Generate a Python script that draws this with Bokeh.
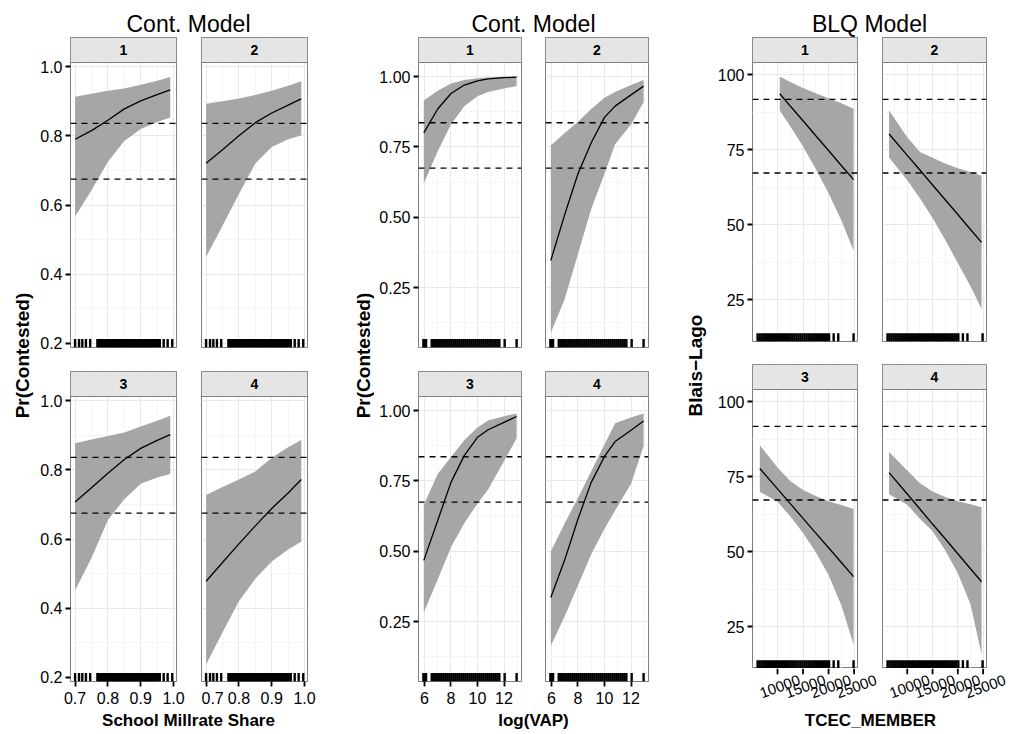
import math
from bokeh.plotting import figure
from bokeh.layouts import row, column
from bokeh.models import FixedTicker, LinearAxis, Grid, Span, NumeralTickFormatter, Range1d
from bokeh.core.properties import value
from bokeh.embed import file_html
from bokeh.resources import INLINE

FONT = "Liberation Sans"

# ------------------------------------------------------------------ data
facets = ["1", "2", "3", "4"]
group_titles = ["Cont. Model", "Cont. Model", "BLQ Model"]
x_titles = ["School Millrate Share", "log(VAP)", "TCEC_MEMBER"]
y_titles = ["Pr(Contested)", "Pr(Contested)", "Blais\u2212Lago"]

cut_pr = [0.836, 0.675]
cut_blq = [91.7, 67.2]

# School Millrate Share model
millrate_x = [0.70, 0.75, 0.80, 0.85, 0.90, 0.95, 0.99]
millrate_fit = [
    [0.790, 0.815, 0.845, 0.878, 0.901, 0.919, 0.933],
    [0.721, 0.760, 0.800, 0.838, 0.866, 0.889, 0.907],
    [0.707, 0.748, 0.790, 0.830, 0.862, 0.885, 0.902],
    [0.478, 0.532, 0.586, 0.638, 0.688, 0.733, 0.772],
]
millrate_lower = [
    [0.567, 0.643, 0.725, 0.785, 0.820, 0.840, 0.853],
    [0.450, 0.540, 0.632, 0.720, 0.768, 0.790, 0.801],
    [0.452, 0.545, 0.655, 0.715, 0.760, 0.778, 0.788],
    [0.237, 0.330, 0.420, 0.485, 0.535, 0.570, 0.592],
]
millrate_upper = [
    [0.913, 0.922, 0.930, 0.937, 0.948, 0.959, 0.970],
    [0.893, 0.900, 0.908, 0.918, 0.930, 0.945, 0.958],
    [0.877, 0.888, 0.898, 0.908, 0.925, 0.942, 0.956],
    [0.727, 0.750, 0.772, 0.795, 0.835, 0.865, 0.886],
]
millrate_rug = [0.700, 0.712, 0.722, 0.733, 0.746, 0.768, 0.772, 0.776, 0.780, 0.784,
                0.788, 0.792, 0.796, 0.800, 0.804, 0.808, 0.812, 0.816, 0.820, 0.824,
                0.828, 0.832, 0.836, 0.840, 0.844, 0.848, 0.852, 0.856, 0.860, 0.864,
                0.868, 0.872, 0.876, 0.880, 0.884, 0.888, 0.892, 0.896, 0.900, 0.904,
                0.908, 0.912, 0.916, 0.920, 0.924, 0.928, 0.932, 0.936, 0.940, 0.944,
                0.948, 0.953, 0.958, 0.970, 0.982, 0.996]

# log(VAP) model
logvap_x = [5.95, 7.0, 8.0, 9.0, 10.0, 10.8, 12.0, 12.95]
logvap_fit = [
    [0.800, 0.885, 0.940, 0.970, 0.985, 0.992, 0.996, 0.998],
    [0.347, 0.510, 0.655, 0.765, 0.855, 0.895, 0.935, 0.966],
    [0.468, 0.610, 0.745, 0.840, 0.905, 0.932, 0.958, 0.979],
    [0.336, 0.470, 0.615, 0.745, 0.837, 0.890, 0.930, 0.963],
]
logvap_lower = [
    [0.620, 0.735, 0.830, 0.895, 0.930, 0.945, 0.958, 0.966],
    [0.090, 0.210, 0.370, 0.530, 0.655, 0.760, 0.830, 0.909],
    [0.283, 0.400, 0.515, 0.600, 0.670, 0.720, 0.820, 0.902],
    [0.165, 0.270, 0.380, 0.490, 0.580, 0.645, 0.740, 0.873],
]
logvap_upper = [
    [0.915, 0.950, 0.975, 0.988, 0.994, 0.997, 0.999, 1.000],
    [0.755, 0.800, 0.840, 0.885, 0.925, 0.945, 0.970, 0.988],
    [0.666, 0.775, 0.835, 0.895, 0.940, 0.965, 0.980, 0.990],
    [0.500, 0.600, 0.690, 0.785, 0.880, 0.955, 0.975, 0.990],
]
logvap_rug = [5.92, 5.97, 6.02, 6.07, 6.12, 6.55, 6.70, 6.85, 7.00, 7.15, 7.30, 7.45,
              7.60, 7.75, 7.90, 8.05, 8.20, 8.35, 8.50, 8.65, 8.80, 8.95, 9.10, 9.25,
              9.40, 9.55, 9.70, 9.85, 10.00, 10.15, 10.30, 10.45, 10.60, 10.75, 10.90,
              11.05, 11.20, 11.35, 11.50, 11.65, 12.05, 12.95]

# TCEC_MEMBER (BLQ) model
tcec_x = [
    [10450, 12500, 15000, 17500, 20000, 22500, 24900],
    [6400, 10000, 12500, 15000, 17500, 20000, 22500, 24700],
    [6540, 10000, 12500, 15000, 17500, 20000, 22500, 24900],
    [6400, 10000, 12500, 15000, 17500, 20000, 22500, 24700],
]
tcec_fit = [
    [93.6, 89.5, 84.6, 79.6, 74.7, 69.7, 65.0],
    [80.2, 73.1, 68.2, 63.2, 58.3, 53.4, 48.4, 44.1],
    [77.7, 70.9, 66.0, 61.1, 56.2, 51.3, 46.4, 41.7],
    [76.3, 69.2, 64.2, 59.2, 54.3, 49.3, 44.3, 40.0],
]
tcec_lower = [
    [88.0, 82.8, 76.0, 68.5, 60.5, 51.5, 41.3],
    [72.4, 64.8, 58.8, 52.2, 45.0, 37.2, 29.5, 21.9],
    [69.9, 66.6, 61.8, 56.2, 49.8, 42.2, 32.2, 19.1],
    [69.1, 65.6, 61.0, 56.8, 50.5, 42.8, 32.5, 15.8],
]
tcec_upper = [
    [99.3, 97.5, 95.5, 93.8, 92.1, 90.4, 88.6],
    [88.0, 79.1, 74.2, 72.3, 70.4, 68.8, 67.5, 66.3],
    [85.4, 78.0, 73.5, 70.5, 68.5, 66.8, 65.5, 64.2],
    [83.2, 77.0, 72.8, 70.0, 68.2, 66.8, 65.8, 64.8],
]
tcec_rug = [6100, 6500, 6900, 7300, 7700, 8100, 8500, 8900, 9300, 9700, 10100, 10500,
            10900, 11300, 11700, 12100, 12500, 12900, 13300, 13700, 14100, 14500, 14900,
            15300, 15700, 16100, 16500, 16900, 17300, 17700, 18100, 18500, 18900, 19300,
            19700, 20100, 21000, 21900, 24900]

# tick positions
millrate_xticks = [0.7, 0.8, 0.9, 1.0]
millrate_yticks = [0.2, 0.4, 0.6, 0.8, 1.0]
logvap_xticks = [6, 8, 10, 12]
logvap_yticks = [0.25, 0.50, 0.75, 1.00]
tcec_xticks = [10000, 15000, 20000, 25000]
tcec_yticks = [25, 50, 75, 100]

# ------------------------------------------------------------------ style
STRIP = 25
BORDER = "#7f7f7f"
STRIP_FILL = "#e5e5e5"
RIBBON = "#a6a6a6"
MAJ = "#e8e8e8"
MINC = "#f5f5f5"
TICK_FS = "16px"
MID_H = 673

groups = [
    dict(x=[millrate_x] * 4, fit=millrate_fit, lo=millrate_lower, hi=millrate_upper,
         rug=millrate_rug, cuts=cut_pr, xr=(0.686, 1.009), yr=(0.188, 1.012), ph=285,
         fw=[106, 106], xt=millrate_xticks, xm=[0.75, 0.85, 0.95], yt=millrate_yticks,
         ym=[0.3, 0.5, 0.7, 0.9], xf="0.0", yf="0.0", bl=34, gap=25, br=33, bb=[24, 29],
         rotated=False),
    dict(x=[logvap_x] * 4, fit=logvap_fit, lo=logvap_lower, hi=logvap_upper,
         rug=logvap_rug, cuts=cut_pr, xr=(5.55, 13.32), yr=(0.038, 1.05), ph=285,
         fw=[103, 103], xt=logvap_xticks, xm=[7, 9, 11, 13], yt=logvap_yticks,
         ym=[0.125, 0.375, 0.625, 0.875], xf="0", yf="0.00", bl=44, gap=24, br=32, bb=[24, 29],
         rotated=False),
    dict(x=tcec_x, fit=tcec_fit, lo=tcec_lower, hi=tcec_upper,
         rug=tcec_rug, cuts=cut_blq, xr=(5100, 25670), yr=(11.1, 104), ph=279,
         fw=[105, 104], xt=tcec_xticks, xm=[7500, 12500, 17500, 22500], yt=tcec_yticks,
         ym=[12.5, 37.5, 62.5, 87.5], xf="0", yf="0", bl=42, gap=25, br=27, bb=[23, 0],
         rotated=True),
]
LABEL_ANGLE = math.radians(20)
TICK_LEN = 6
LABEL_SHIFT = 22   # px: moves the slanted labels so that they sit centred on their ticks


def style_axis(ax, fmt, ticks, standoff):
    ax.ticker = FixedTicker(ticks=ticks)
    ax.formatter = NumeralTickFormatter(format=fmt)
    ax.axis_line_color = None
    ax.major_tick_line_color = "black"
    ax.major_tick_line_width = 1.8
    ax.major_tick_out = 5
    ax.major_tick_in = 0
    ax.minor_tick_line_color = None
    ax.major_label_text_font = FONT
    ax.major_label_text_font_size = TICK_FS
    ax.major_label_text_color = "black"
    ax.major_label_standoff = standoff


def base_fig(fw, fh, xr, yr, bl, br, bt, bb, outline):
    return figure(frame_width=fw, frame_height=fh, x_range=Range1d(*xr), y_range=Range1d(*yr),
                  x_axis_type=None, y_axis_type=None, tools="", toolbar_location=None,
                  output_backend="svg", min_border_left=bl, min_border_right=br,
                  min_border_top=bt, min_border_bottom=bb,
                  background_fill_color="white", border_fill_color="white",
                  outline_line_color=outline, outline_line_width=1)


def panel(g, k, left_axis, bottom_axis, bl, br, bb):
    x0, x1 = g["xr"]
    y0, y1 = g["yr"]
    ph = g["ph"]
    ytop = y1 + (y1 - y0) * STRIP / ph
    p = base_fig(g["fw"][k % 2], ph + STRIP, (x0, x1), (y0, ytop), bl, br, 0, bb, BORDER)
    p.add_layout(Grid(dimension=0, ticker=FixedTicker(ticks=g["xt"], minor_ticks=g["xm"]),
                      grid_line_color=MAJ, grid_line_width=1,
                      minor_grid_line_color=MINC, minor_grid_line_width=1))
    p.add_layout(Grid(dimension=1, ticker=FixedTicker(ticks=g["yt"], minor_ticks=g["ym"]),
                      grid_line_color=MAJ, grid_line_width=1,
                      minor_grid_line_color=MINC, minor_grid_line_width=1))
    xs = g["x"][k]
    p.varea(x=xs, y1=g["lo"][k], y2=g["hi"][k], fill_color=RIBBON, fill_alpha=1)
    p.line(x=xs, y=g["fit"][k], line_color="black", line_width=1.3)
    rug_len = 0.03 * (y1 - y0)
    rug = g["rug"]
    p.segment(x0=rug, y0=[y0] * len(rug), x1=rug, y1=[y0 + rug_len] * len(rug),
              line_color="black", line_width=2.4)
    for c in g["cuts"]:
        p.add_layout(Span(location=c, dimension="width", line_color="black",
                          line_width=1.3, line_dash="6 5"))
    # facet strip
    p.quad(left=[x0], right=[x1], bottom=[y1], top=[ytop], fill_color=STRIP_FILL,
           line_color=BORDER, line_width=1)
    p.text(x=[(x0 + x1) / 2], y=[(y1 + ytop) / 2], text=[facets[k]],
           text_font=value(FONT), text_font_style="bold", text_font_size="14px",
           text_align="center", text_baseline="middle", text_color="black")
    if left_axis:
        ax = LinearAxis()
        style_axis(ax, g["yf"], g["yt"], 3)
        p.add_layout(ax, "left")
    if bottom_axis and not g["rotated"]:
        ax = LinearAxis()
        style_axis(ax, g["xf"], g["xt"], 5)
        p.add_layout(ax, "below")
    return p


def rotated_label_fig(g, k, bl, extra):
    """Tick marks and slanted tick labels under a BLQ panel."""
    x0, x1 = g["xr"]
    fw = g["fw"][k % 2]
    upp = (x1 - x0) / fw
    lw = fw + extra
    p = base_fig(lw, TICK_LEN, (x0, x0 + lw * upp), (0, 1), bl, 0, 0, 36, None)
    ticks = g["xt"]
    p.segment(x0=ticks, y0=[0] * len(ticks), x1=ticks, y1=[1] * len(ticks),
              line_color="black", line_width=1.8)
    start = x0 - LABEL_SHIFT * upp
    p.extra_x_ranges = {"labels": Range1d(start, start + lw * upp)}
    ax = LinearAxis(x_range_name="labels")
    style_axis(ax, g["xf"], ticks, 5)
    ax.major_tick_line_color = None
    ax.major_tick_out = 0
    ax.major_label_text_font_size = "15px"
    ax.major_label_orientation = LABEL_ANGLE
    p.add_layout(ax, "below")
    return p


def text_fig(w, h):
    return base_fig(w, h, (0, w), (0, h), 0, 0, 0, 0, None)


ylab_w = [36, 34, 30]
ylab_x = [22, 23, 15]
ylab_y = [MID_H - 318, MID_H - 318, MID_H - 328]

blocks = []
for gi, g in enumerate(groups):
    yl = text_fig(ylab_w[gi], MID_H)
    yl.text(x=[ylab_x[gi]], y=[ylab_y[gi]], text=[y_titles[gi]], angle=math.pi / 2,
            text_font=value(FONT), text_font_style="bold", text_font_size="19px",
            text_align="center", text_baseline="middle", text_color="black")
    rows = []
    for r in range(2):
        bottom = (r == 1)
        pa = panel(g, 2 * r, True, bottom, g["bl"], g["gap"], g["bb"][r])
        pb = panel(g, 2 * r + 1, False, bottom, 0, g["br"], g["bb"][r])
        rows.append(row(pa, pb, spacing=0))
    if g["rotated"]:
        la = rotated_label_fig(g, 2, g["bl"], g["gap"])
        lb = rotated_label_fig(g, 3, 0, g["br"])
        rows.append(row(la, lb, spacing=0))
    blocks.append(yl)
    blocks.append(column(*rows, spacing=0))

middle = row(*blocks, spacing=0)

top = text_fig(1013, 37)
top.text(x=[188, 533, 869], y=[14, 14, 14], text=group_titles,
         text_font=value(FONT), text_font_size="23px", text_align="center",
         text_baseline="middle", text_color="black")

BOT_H = 734 - 37 - MID_H
bot = text_fig(1013, BOT_H)
bot.text(x=[188, 533, 870], y=[BOT_H - 10, BOT_H - 10, BOT_H - 10], text=x_titles,
         text_font=value(FONT), text_font_style="bold", text_font_size="17px",
         text_align="center", text_baseline="middle", text_color="black")

layout = column(top, middle, bot, spacing=0)

open("out.html", "w").write(file_html(layout, INLINE))
